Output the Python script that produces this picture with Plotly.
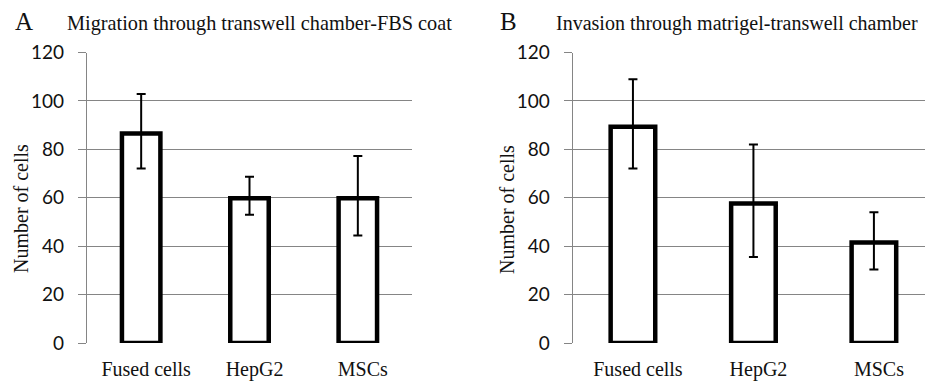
import plotly.graph_objects as go

categories = ["Fused cells", "HepG2", "MSCs"]

# Panel A: Migration
a_values = [86.5, 59.8, 59.8]
a_err_high = [102.9, 68.7, 77.2]
a_err_low = [72.1, 53.0, 44.4]

# Panel B: Invasion
b_values = [89.3, 57.6, 41.5]
b_err_high = [108.9, 82.0, 54.0]
b_err_low = [72.1, 35.5, 30.4]

y_ticks = [0, 20, 40, 60, 80, 100, 120]

title_a = "Migration through transwell chamber-FBS coat"
title_b = "Invasion through matrigel-transwell chamber"
y_title = "Number of cells"

W, H = 925, 383
serif = "Liberation Serif, Times New Roman, serif"
sans = "Lato, Open Sans, sans-serif"

def px(x):
    return x / W

def py(y):
    return 1 - y / H

def bar(vals, hi, lo, xa, ya, width):
    return go.Bar(
        x=categories, y=vals, xaxis=xa, yaxis=ya, width=width,
        marker=dict(color="white", line=dict(color="black", width=4.5)),
        error_y=dict(type="data", symmetric=False,
                     array=[h - v for h, v in zip(hi, vals)],
                     arrayminus=[v - l for v, l in zip(vals, lo)],
                     color="black", thickness=2, width=4.5),
        showlegend=False,
    )

fig = go.Figure()
fig.add_trace(bar(a_values, a_err_high, a_err_low, "x", "y", 0.355))
fig.add_trace(bar(b_values, b_err_high, b_err_low, "x2", "y2", 0.37))

def yax(anchor):
    return dict(domain=[py(343), py(52.5)], range=[0, 120], tickvals=y_ticks, anchor=anchor,
                automargin=False,
                showgrid=True, gridcolor="#858585", gridwidth=1.4,
                showline=True, linecolor="#858585", linewidth=1.4,
                ticks="outside", ticklen=8, tickcolor="#858585", tickwidth=1.4,
                ticklabelstandoff=10, zeroline=False,
                tickfont=dict(family=sans, size=19, color="#111"))

def xax(domain, rng, anchor):
    return dict(domain=domain, range=rng, anchor=anchor, type="category",
                automargin=False,
                showgrid=False, showline=False, zeroline=False, ticks="",
                ticklabelstandoff=12, ticklabelshift=5,
                tickfont=dict(family=serif, size=20, color="#111"))

fig.update_layout(
    width=W, height=H,
    margin=dict(l=0, r=0, t=0, b=0, autoexpand=False),
    paper_bgcolor="white", plot_bgcolor="white",
    bargap=0.6,
    xaxis=xax([px(87), px(412)], [-0.5, 2.5], "y"),
    yaxis=yax("x"),
    xaxis2=xax([px(572.7), 1.0], [-0.5, 2.424], "y2"),
    yaxis2=yax("x2"),
)

ann = []
def add(text, xc, yc, size, angle=0, xanchor="center"):
    ann.append(dict(text=text, x=px(xc), y=py(yc), xref="paper", yref="paper",
                    xanchor=xanchor, yanchor="middle", showarrow=False,
                    textangle=angle, font=dict(family=serif, size=size, color="#111")))

add("A", 24, 22, 25)
add("B", 508, 22, 25)
add(title_a, 259, 24, 20.3)
add(title_b, 920, 24, 20, xanchor="right")
add(y_title, 21, 209, 20, -90)
add(y_title, 507, 209, 20, -90)
fig.update_layout(annotations=ann)

fig.write_html(
    "out.html",
    config={"displayModeBar": False},
    post_script=(
        "document.body.style.margin='0';"
        "document.body.style.overflow='hidden';"
        "document.documentElement.style.overflow='hidden';"
    ),
)
